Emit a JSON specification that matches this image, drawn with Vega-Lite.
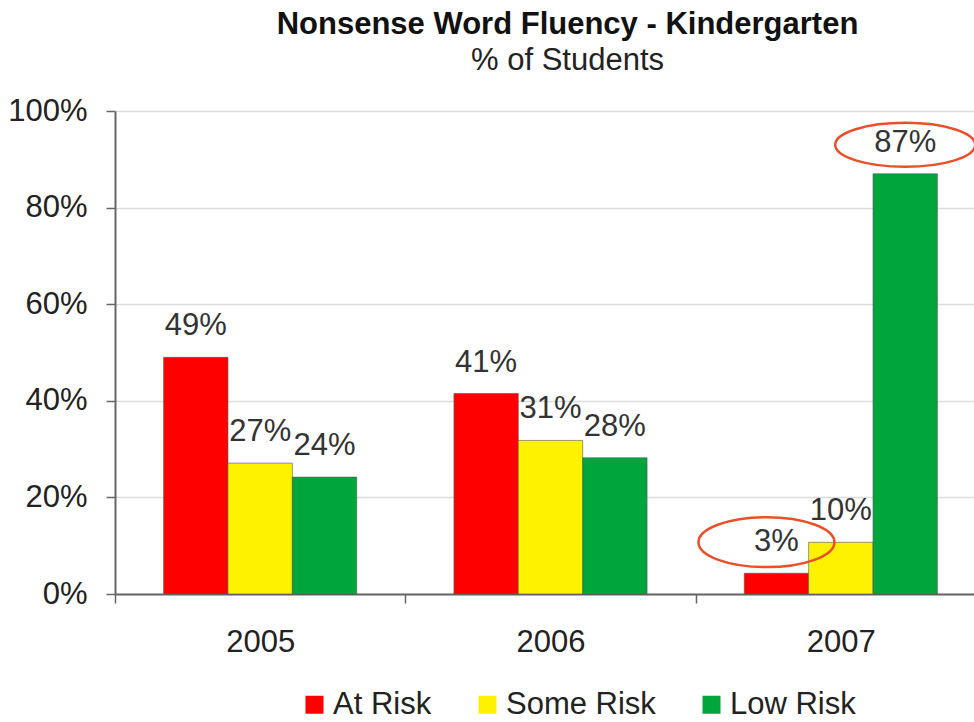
{
  "$schema": "https://vega.github.io/schema/vega-lite/v6.json",
  "autosize": {"type": "none"},
  "width": 871,
  "height": 483,
  "padding": {"left": 115, "top": 111, "right": 0, "bottom": 128},
  "background": "white",
  "title": {
    "text": "Nonsense Word Fluency - Kindergarten",
    "subtitle": "% of Students",
    "anchor": "middle",
    "dx": 17,
    "offset": 18,
    "font": "Liberation Sans",
    "fontSize": 31,
    "fontWeight": "bold",
    "color": "#111",
    "subtitleFont": "Liberation Sans",
    "subtitleFontSize": 31,
    "subtitleColor": "#222",
    "subtitlePadding": 5
  },
  "data": {
    "values": [
      {"year": "2005", "risk": "At Risk", "value": 0.49, "label": "49%", "circled": false},
      {"year": "2005", "risk": "Some Risk", "value": 0.271, "label": "27%", "circled": false},
      {"year": "2005", "risk": "Low Risk", "value": 0.242, "label": "24%", "circled": false},
      {"year": "2006", "risk": "At Risk", "value": 0.415, "label": "41%", "circled": false},
      {"year": "2006", "risk": "Some Risk", "value": 0.318, "label": "31%", "circled": false},
      {"year": "2006", "risk": "Low Risk", "value": 0.282, "label": "28%", "circled": false},
      {"year": "2007", "risk": "At Risk", "value": 0.043, "label": "3%", "circled": true},
      {"year": "2007", "risk": "Some Risk", "value": 0.107, "label": "10%", "circled": false},
      {"year": "2007", "risk": "Low Risk", "value": 0.87, "label": "87%", "circled": true}
    ]
  },
  "encoding": {
    "x": {
      "field": "year",
      "type": "nominal",
      "scale": {"paddingInner": 0, "paddingOuter": 0},
      "axis": {
        "title": null,
        "tickBand": "extent",
        "labelAngle": 0,
        "labelFont": "Liberation Sans",
        "labelFontSize": 31,
        "labelColor": "#222",
        "labelPadding": 24,
        "tickSize": 9,
        "tickColor": "#666",
        "tickWidth": 1.5,
        "domainColor": "#666",
        "domainWidth": 2,
        "grid": false
      }
    },
    "xOffset": {
      "field": "risk",
      "type": "nominal",
      "sort": ["At Risk", "Some Risk", "Low Risk"],
      "scale": {"paddingInner": 0, "paddingOuter": 0.755}
    },
    "y": {
      "field": "value",
      "type": "quantitative",
      "scale": {"domain": [0, 1]},
      "axis": {
        "title": null,
        "values": [0, 0.2, 0.4, 0.6, 0.8, 1],
        "format": ".0%",
        "labelFont": "Liberation Sans",
        "labelFontSize": 31,
        "labelColor": "#222",
        "labelPadding": 19,
        "tickSize": 9,
        "tickColor": "#666",
        "tickWidth": 1.5,
        "domainColor": "#666",
        "domainWidth": 2,
        "grid": true,
        "gridColor": "#dcdcdc",
        "gridWidth": 1.5
      }
    }
  },
  "layer": [
    {
      "mark": {"type": "bar", "stroke": "#555", "strokeWidth": 0.6},
      "encoding": {
        "color": {
          "field": "risk",
          "type": "nominal",
          "sort": ["At Risk", "Some Risk", "Low Risk"],
          "scale": {"domain": ["At Risk", "Some Risk", "Low Risk"], "range": ["#ff0000", "#fff200", "#00a63c"]},
          "legend": {
            "title": null,
            "orient": "none",
            "direction": "horizontal",
            "legendX": 184,
            "legendY": 578,
            "symbolType": "square",
            "symbolSize": 324,
            "symbolStrokeWidth": 0,
            "symbolOffset": 0,
            "labelFont": "Liberation Sans",
            "labelFontSize": 31,
            "labelColor": "#222",
            "labelOffset": 3,
            "columnPadding": 40
          }
        }
      }
    },
    {
      "mark": {"type": "text", "baseline": "middle", "dy": -31, "font": "Liberation Sans", "fontSize": 31, "color": "#333"},
      "encoding": {"text": {"field": "label"}}
    },
    {
      "transform": [{"filter": "datum.circled"}],
      "mark": {
        "type": "point",
        "size": 19600,
        "filled": false,
        "stroke": "#e8502a",
        "strokeWidth": 2.5,
        "opacity": 1,
        "yOffset": -29
      },
      "encoding": {
        "shape": {
          "field": "label",
          "type": "nominal",
          "scale": {
            "domain": ["3%", "87%"],
            "range": [
              "M-1.114,-0.03A0.971,0.357,0,1,0,0.828,-0.03A0.971,0.357,0,1,0,-1.114,-0.03Z",
              "M-1,0A1,0.314,0,1,0,1,0A1,0.314,0,1,0,-1,0Z"
            ]
          },
          "legend": null
        }
      }
    }
  ],
  "config": {"view": {"stroke": null}}
}
